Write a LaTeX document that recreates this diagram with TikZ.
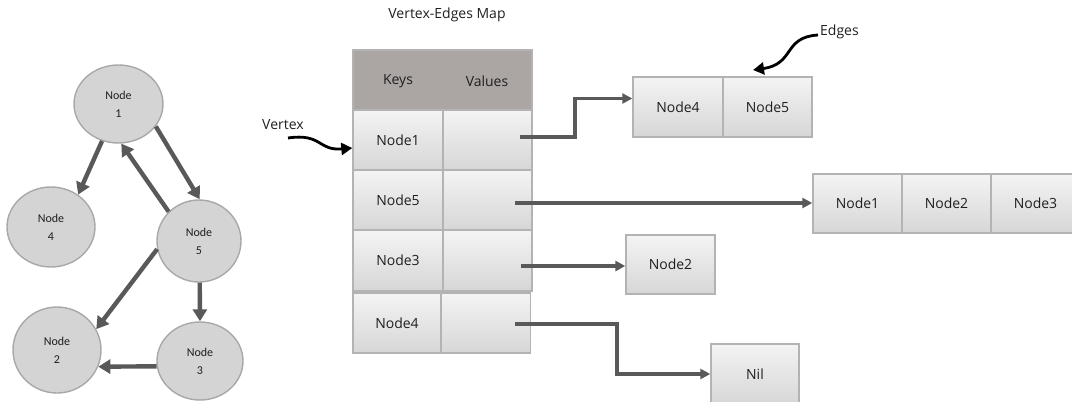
\documentclass[tikz,border=0pt]{standalone}
\usepackage{fontspec}
\setmainfont{Open Sans}
\newfontfamily\circfont{Carlito}
\usetikzlibrary{shapes.geometric,arrows.meta}
\definecolor{circfill}{HTML}{D4D4D4}
\definecolor{circline}{HTML}{A8A8A8}
\definecolor{arrowgray}{HTML}{595959}
\definecolor{headfill}{HTML}{ABA6A4}
\definecolor{celltop}{HTML}{F4F4F4}
\definecolor{cellbot}{HTML}{D6D6D6}
\definecolor{cellline}{HTML}{B3B3B3}
\definecolor{txt}{HTML}{1F1F1F}
\tikzset{
  gnode/.style={ellipse, draw=circline, line width=1.4pt, fill=circfill, inner sep=0pt,
    align=center, text=txt, font=\circfont\fontsize{12}{18}\selectfont},
  gedge/.style={draw=arrowgray, line width=4.4pt, -{Triangle[length=12pt,width=14pt]}},
  cell/.style={rectangle, draw=cellline, line width=1.4pt, top color=celltop, bottom color=cellbot,
    inner sep=0pt, text=txt, font=\fontsize{14}{16}\selectfont},
  headcell/.style={rectangle, draw=cellline, line width=1.4pt, fill=headfill, inner sep=0pt},
  tedge/.style={draw=arrowgray, line width=3.2pt, -{Triangle[length=10pt,width=10pt]}},
  curvy/.style={draw=black, line width=2.8pt, -{Triangle[length=11pt,width=12pt]}},
  lbl/.style={font=\fontsize{14}{16}\selectfont, inner sep=0pt, text=txt}
}
\begin{document}
\begin{tikzpicture}[x=1pt,y=-1pt]
\useasboundingbox (0,0) rectangle (1072,402);
% graph
\node[gnode, minimum width=89pt, minimum height=78pt] (n1) at (118.5,104) {Node\\1};
\node[gnode, minimum width=88pt, minimum height=80pt] (n4) at (51,227) {Node\\4};
\node[gnode, minimum width=84pt, minimum height=82pt] (n5) at (199,241) {Node\\5};
\node[gnode, minimum width=88pt, minimum height=86pt] (n2) at (57,350) {Node\\2};
\node[gnode, minimum width=86pt, minimum height=78pt] (n3) at (200,361) {Node\\3};
\draw[gedge] (n1.-114) -- (n4.50);
\draw[gedge] (n1.-31) -- (n5.89);
\draw[gedge] (n5.136) -- (n1.-86);
\draw[gedge] (n5.-169) -- (n2.28);
\draw[gedge] (n5.-89) -- (n3.90);
\draw[gedge] (n3.-173) -- (n2.-22);
% table
\node[lbl] (title) at (447,15) {Vertex-Edges Map};
\node[headcell, minimum width=179pt, minimum height=60pt] (head) at (442.5,80) {};
\node[lbl] (keys) at (398,81) {Keys};
\node[lbl] (vals) at (487,81) {Values};
\node[cell, minimum width=90pt, minimum height=60pt] (k1) at (398,140) {Node1};
\node[cell, minimum width=89pt, minimum height=60pt] (v1) at (487.5,140) {};
\node[cell, minimum width=90pt, minimum height=60pt] (k5) at (398,200) {Node5};
\node[cell, minimum width=89pt, minimum height=60pt] (v5) at (487.5,200) {};
\node[cell, minimum width=90pt, minimum height=61pt] (k3) at (398,260.5) {Node3};
\node[cell, minimum width=89pt, minimum height=61pt] (v3) at (487.5,260.5) {};
\node[cell, minimum width=88pt, minimum height=60pt] (k4) at (397,323) {Node4};
\node[cell, minimum width=89pt, minimum height=60pt] (v4) at (486,323) {};
% lists
\node[cell, minimum width=90pt, minimum height=60pt] (l1a) at (678,107) {Node4};
\node[cell, minimum width=89pt, minimum height=60pt] (l1b) at (767.5,107) {Node5};
\node[cell, minimum width=89pt, minimum height=59pt] (l5a) at (857.5,203.5) {Node1};
\node[cell, minimum width=89pt, minimum height=59pt] (l5b) at (946.5,203.5) {Node2};
\node[cell, minimum width=89pt, minimum height=59pt] (l5c) at (1035.5,203.5) {Node3};
\node[cell, minimum width=89pt, minimum height=59pt] (l3a) at (670.5,264.5) {Node2};
\node[cell, minimum width=88pt, minimum height=60pt] (l4a) at (755,374) {Nil};
% table arrows
\coordinate (s1) at (520,137);
\coordinate (s5) at (515,203);
\coordinate (s3) at (521,266);
\coordinate (s4) at (515,324);
\draw[tedge] (s1) -- (575,137) -- (575,98.5) -- (l1a.west |- 0,98.5);
\draw[tedge] (s5) -- (l5a.west |- s5);
\draw[tedge] (s3) -- (l3a.west |- s3);
\draw[tedge] (s4) -- (617,324) -- (617,374) -- (l4a.west);
% labels with curvy arrows
\node[lbl, anchor=west] (vertex) at (262,125) {Vertex};
\coordinate (vs) at (288,138);
\draw[curvy] (vs) .. controls (322,133) and (318,151) .. (k1.west |- 0,148);
\node[lbl, anchor=west] (edges) at (820,32) {Edges};
\coordinate (es) at (818,35);
\coordinate (ee) at (753,70);
\draw[curvy] (es) .. controls (783,37) and (795,64) .. (ee);
\end{tikzpicture}
\end{document}
